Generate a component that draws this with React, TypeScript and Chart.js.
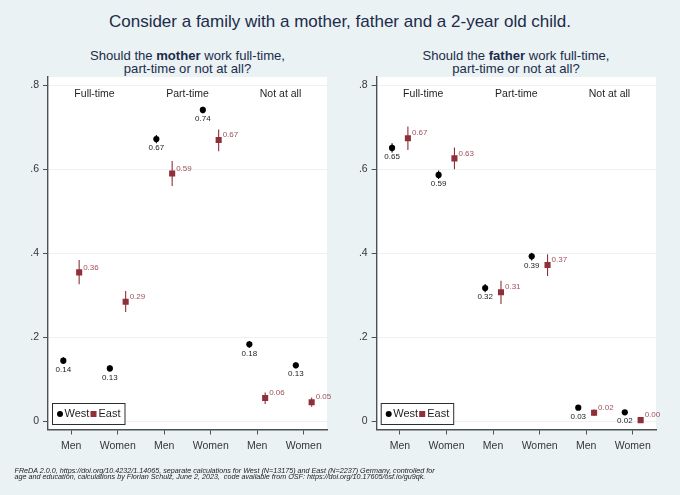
import { useEffect, useRef } from "react";
import { Chart, registerables } from "chart.js";

Chart.register(...registerables);

const BG = "#eaf2f3";
const NAVY = "#1c2b4b";
const AXIS = "#4b5157";
const TICK_TEXT = "#33373b";
const WEST = "#000000";
const EAST = "#8f2f3a";
const EAST_TEXT = "#a0505a";
const FONT = "'Liberation Sans', Arial, sans-serif";

const xLabels = ["Men", "Women", "Men", "Women", "Men", "Women"];
const yTicks = [0, 0.2, 0.4, 0.6, 0.8];
const groups = ["Full-time", "Part-time", "Not at all"];

// mother panel
const motherWest = [0.144, 0.1255, 0.672, 0.7415, 0.183, 0.133];
const motherWestLow = [0.136, 0.118, 0.662, 0.733, 0.175, 0.126];
const motherWestHigh = [0.152, 0.133, 0.682, 0.749, 0.191, 0.14];
const motherWestText = ["0.14", "0.13", "0.67", "0.74", "0.18", "0.13"];
const motherEast = [0.3545, 0.2846, 0.59, 0.67, 0.055, 0.045];
const motherEastLow = [0.326, 0.26, 0.56, 0.643, 0.041, 0.034];
const motherEastHigh = [0.384, 0.31, 0.62, 0.695, 0.068, 0.056];
const motherEastText = ["0.36", "0.29", "0.59", "0.67", "0.06", "0.05"];

// father panel
const fatherWest = [0.651, 0.5866, 0.317, 0.3927, 0.032, 0.021];
const fatherWestLow = [0.64, 0.577, 0.307, 0.383, 0.027, 0.017];
const fatherWestHigh = [0.662, 0.597, 0.327, 0.401, 0.036, 0.025];
const fatherWestText = ["0.65", "0.59", "0.32", "0.39", "0.03", "0.02"];
const fatherEast = [0.674, 0.626, 0.307, 0.372, 0.02, 0.0024];
const fatherEastLow = [0.646, 0.6, 0.279, 0.3457, 0.012, 0.001];
const fatherEastHigh = [0.702, 0.652, 0.3345, 0.3975, 0.028, 0.004];
const fatherEastText = ["0.67", "0.63", "0.31", "0.37", "0.02", "0.00"];

const DODGE = 0.17;

const toPoints = (values: number[], shift: number) =>
  values.map((y, i) => ({ x: i + 1 + shift, y }));

interface PanelProps {
  left: number;
  axisWidth: number;
  paddingRight: number;
  west: number[];
  westLow: number[];
  westHigh: number[];
  westText: string[];
  east: number[];
  eastLow: number[];
  eastHigh: number[];
  eastText: string[];
}

const Panel = (p: PanelProps) => {
  const ref = useRef<HTMLCanvasElement | null>(null);

  useEffect(() => {
    if (!ref.current) return;

    // white plot region, drawn under the grid
    const plotBg = {
      id: "plotBg",
      beforeDraw(chart: any) {
        const { ctx, chartArea: a } = chart;
        ctx.save();
        ctx.fillStyle = "#ffffff";
        ctx.fillRect(a.left, a.top, a.right - a.left, a.bottom - a.top);
        ctx.restore();
      },
    };

    // confidence intervals
    const whiskers = {
      id: "whiskers",
      beforeDatasetsDraw(chart: any) {
        const { ctx, scales } = chart;
        const draw = (low: number[], high: number[], shift: number, color: string) => {
          ctx.strokeStyle = color;
          low.forEach((v, i) => {
            const x = scales.x.getPixelForValue(i + 1 + shift);
            ctx.beginPath();
            ctx.moveTo(x, scales.y.getPixelForValue(v));
            ctx.lineTo(x, scales.y.getPixelForValue(high[i]));
            ctx.stroke();
          });
        };
        ctx.save();
        ctx.lineWidth = 1.1;
        draw(p.westLow, p.westHigh, -DODGE, WEST);
        draw(p.eastLow, p.eastHigh, DODGE, EAST);
        ctx.restore();
      },
    };

    // value labels, group captions and the legend box inside the plot
    const annotations = {
      id: "annotations",
      afterDatasetsDraw(chart: any) {
        const { ctx, scales, chartArea: a } = chart;
        ctx.save();
        ctx.font = `8px ${FONT}`;
        ctx.textBaseline = "middle";
        ctx.textAlign = "center";
        ctx.fillStyle = "#222222";
        p.west.forEach((v, i) => {
          const x = scales.x.getPixelForValue(i + 1 - DODGE);
          ctx.fillText(p.westText[i], x, scales.y.getPixelForValue(v) + 9);
        });
        ctx.textAlign = "left";
        ctx.fillStyle = EAST_TEXT;
        p.east.forEach((v, i) => {
          const x = scales.x.getPixelForValue(i + 1 + DODGE);
          ctx.fillText(p.eastText[i], x + 4, scales.y.getPixelForValue(v) - 5);
        });

        ctx.font = `10.5px ${FONT}`;
        ctx.textAlign = "center";
        ctx.fillStyle = "#1f1f1f";
        groups.forEach((g, i) => {
          ctx.fillText(g, scales.x.getPixelForValue(1.5 + i * 2), scales.y.getPixelForValue(0.78));
        });

        const bx = a.left + 4.5;
        const by = a.bottom - 26;
        ctx.fillStyle = "#ffffff";
        ctx.strokeStyle = "#2b2f33";
        ctx.lineWidth = 1;
        ctx.fillRect(bx, by, 72.5, 21);
        ctx.strokeRect(bx, by, 72.5, 21);
        const my = by + 10.5;
        ctx.fillStyle = WEST;
        ctx.beginPath();
        ctx.arc(bx + 7.5, my, 3, 0, Math.PI * 2);
        ctx.fill();
        ctx.fillStyle = EAST;
        ctx.fillRect(bx + 38, my - 3, 6, 6);
        ctx.fillStyle = "#1f1f1f";
        ctx.font = `11px ${FONT}`;
        ctx.textAlign = "left";
        ctx.fillText("West", bx + 12, my);
        ctx.fillText("East", bx + 46, my);
        ctx.restore();
      },
    };

    const chart = new Chart(ref.current, {
      type: "scatter",
      data: {
        datasets: [
          {
            label: "West",
            data: toPoints(p.west, -DODGE),
            backgroundColor: WEST,
            borderWidth: 0,
            pointStyle: "circle",
            pointRadius: 3.1,
          },
          {
            label: "East",
            data: toPoints(p.east, DODGE),
            backgroundColor: EAST,
            borderWidth: 0,
            pointStyle: "rect",
            pointRadius: 4.3,
          },
        ],
      },
      options: {
        animation: false,
        responsive: false,
        layout: { padding: { top: 7, right: p.paddingRight, left: 0, bottom: 0 } },
        plugins: {
          legend: { display: false },
          tooltip: { enabled: false },
        },
        scales: {
          x: {
            type: "linear",
            min: 0.5,
            max: 6.5,
            afterFit: (s: any) => {
              s.height = 40.5;
              s.paddingLeft = 0;
              s.paddingRight = 0;
            },
            afterBuildTicks: (s: any) => {
              s.ticks = xLabels.map((_, i) => ({ value: i + 1 }));
            },
            ticks: {
              autoSkip: false,
              maxRotation: 0,
              padding: 5,
              color: TICK_TEXT,
              font: { family: FONT, size: 10.5 },
              callback: (v: any) => xLabels[Number(v) - 1],
            },
            grid: { drawOnChartArea: false, tickColor: AXIS, tickLength: 5 },
            border: { color: AXIS, width: 1.4 },
          },
          y: {
            min: -0.02,
            max: 0.82,
            afterFit: (s: any) => {
              s.width = p.axisWidth;
              // no room kept for the tick labels above the plot
              s.paddingTop = 0;
              s.paddingBottom = 0;
            },
            afterBuildTicks: (s: any) => {
              s.ticks = yTicks.map((value) => ({ value }));
            },
            ticks: {
              padding: 4,
              color: TICK_TEXT,
              font: { family: FONT, size: 10.5 },
              callback: (v: any) => (Number(v) === 0 ? "0" : Number(v).toFixed(1).replace("0.", ".")),
            },
            grid: { color: BG, lineWidth: 1, tickColor: AXIS, tickLength: 5 },
            border: { color: AXIS, width: 1.4 },
          },
        },
      },
      plugins: [plotBg, whiskers, annotations],
    } as any);

    return () => chart.destroy();
  }, []);

  return (
    <canvas
      ref={ref}
      width={340}
      height={400}
      style={{ position: "absolute", left: p.left, top: 70, width: 340, height: 400 }}
    />
  );
};

const subtitleStyle = (center: number): React.CSSProperties => ({
  position: "absolute",
  left: center - 160,
  width: 320,
  top: 49,
  textAlign: "center",
  fontSize: 13.1,
  lineHeight: "13px",
  color: NAVY,
});

export default function App() {
  return (
    <div
      style={{
        position: "fixed",
        left: 0,
        top: 0,
        width: 680,
        height: 495,
        overflow: "hidden",
        background: BG,
        fontFamily: FONT,
      }}
    >
      <div
        style={{
          position: "absolute",
          left: 0,
          width: 680,
          top: 11,
          textAlign: "center",
          fontSize: 17,
          lineHeight: "22px",
          color: NAVY,
        }}
      >
        Consider a family with a mother, father and a 2-year old child.
      </div>
      <div style={subtitleStyle(187.5)}>
        Should the <b>mother</b> work full-time,
        <br />
        part-time or not at all?
      </div>
      <div style={subtitleStyle(516)}>
        Should the <b>father</b> work full-time,
        <br />
        part-time or not at all?
      </div>
      <Panel
        left={0}
        axisWidth={48}
        paddingRight={13}
        west={motherWest}
        westLow={motherWestLow}
        westHigh={motherWestHigh}
        westText={motherWestText}
        east={motherEast}
        eastLow={motherEastLow}
        eastHigh={motherEastHigh}
        eastText={motherEastText}
      />
      <Panel
        left={340}
        axisWidth={36.7}
        paddingRight={24}
        west={fatherWest}
        westLow={fatherWestLow}
        westHigh={fatherWestHigh}
        westText={fatherWestText}
        east={fatherEast}
        eastLow={fatherEastLow}
        eastHigh={fatherEastHigh}
        eastText={fatherEastText}
      />
      <div
        style={{
          position: "absolute",
          left: 14.5,
          top: 467.5,
          fontSize: 7.2,
          lineHeight: "6.6px",
          fontStyle: "italic",
          color: "#222222",
          whiteSpace: "nowrap",
        }}
      >
        FReDA 2.0.0, https://doi.org/10.4232/1.14065, separate calculations for West (N=13175) and East (N=2237) Germany, controlled for
        <br />
        age and education, calculations by Florian Schulz, June 2, 2023,&nbsp; code available from OSF: https://doi.org/10.17605/osf.io/gu9qk.
      </div>
    </div>
  );
}
